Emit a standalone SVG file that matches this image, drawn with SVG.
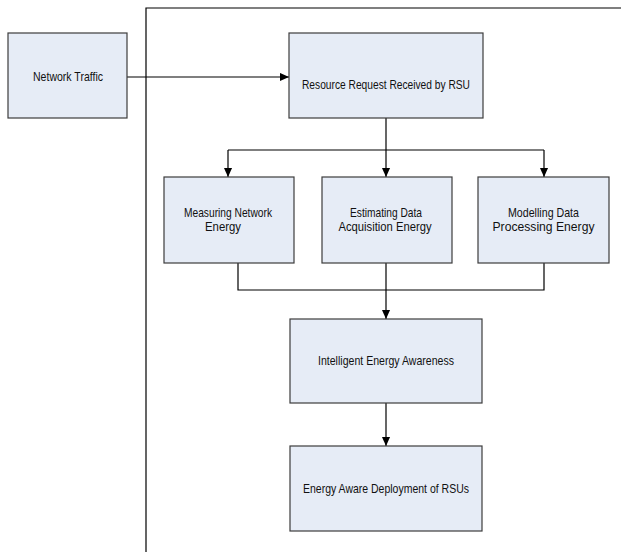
<svg xmlns="http://www.w3.org/2000/svg" width="621" height="559" viewBox="0 0 621 559">
<style>
.box{fill:#e6ecf6;stroke:#3c3c3c;stroke-width:1.2}
.t{font-family:"Liberation Sans",Arial,sans-serif;font-size:13.5px;fill:#111;text-anchor:middle}
.ln{fill:none;stroke:#000;stroke-width:1.2}
</style>
<defs>
<marker id="ah" viewBox="0 0 10 10" refX="10" refY="5" markerWidth="9" markerHeight="9" markerUnits="userSpaceOnUse" orient="auto">
<path d="M0,0.5 L10,5 L0,9.5 z" fill="#000"/>
</marker>
</defs>
<rect width="621" height="559" fill="#fff"/>
<g id="frame"><path class="ln" d="M146,552 V8 H621"/></g>
<g id="connectors">
<path class="ln" d="M127,77 H289" marker-end="url(#ah)"/>
<path class="ln" d="M386,118 V150"/>
<path class="ln" d="M228,150 H544"/>
<path class="ln" d="M228,150 V177" marker-end="url(#ah)"/>
<path class="ln" d="M386,150 V177" marker-end="url(#ah)"/>
<path class="ln" d="M544,150 V177" marker-end="url(#ah)"/>
<path class="ln" d="M238,263 V290 H544 V263"/>
<path class="ln" d="M386,263 V319" marker-end="url(#ah)"/>
<path class="ln" d="M386,403 V446" marker-end="url(#ah)"/>
</g>
<g id="n1"><rect class="box" x="8" y="33" width="119" height="85"/><text class="t" x="68" y="81" textLength="70" lengthAdjust="spacingAndGlyphs">Network Traffic</text></g>
<g id="n2"><rect class="box" x="289" y="33" width="194" height="85"/><text class="t" x="386" y="89" textLength="168" lengthAdjust="spacingAndGlyphs">Resource Request Received by RSU</text></g>
<g id="n3"><rect class="box" x="164" y="177" width="130" height="86"/><text class="t" x="228" y="216.5" textLength="88" lengthAdjust="spacingAndGlyphs">Measuring Network</text><text class="t" x="223" y="231" textLength="36" lengthAdjust="spacingAndGlyphs">Energy</text></g>
<g id="n4"><rect class="box" x="322" y="177" width="130" height="86"/><text class="t" x="386" y="216.5" textLength="72" lengthAdjust="spacingAndGlyphs">Estimating Data</text><text class="t" x="385" y="231" textLength="93" lengthAdjust="spacingAndGlyphs">Acquisition Energy</text></g>
<g id="n5"><rect class="box" x="478" y="177" width="131" height="86"/><text class="t" x="543.5" y="216.5" textLength="71" lengthAdjust="spacingAndGlyphs">Modelling Data</text><text class="t" x="543.5" y="231" textLength="102" lengthAdjust="spacingAndGlyphs">Processing Energy</text></g>
<g id="n6"><rect class="box" x="290" y="319" width="192" height="84"/><text class="t" x="386" y="365" textLength="136" lengthAdjust="spacingAndGlyphs">Intelligent Energy Awareness</text></g>
<g id="n7"><rect class="box" x="290" y="446" width="192" height="85"/><text class="t" x="386" y="493" textLength="166" lengthAdjust="spacingAndGlyphs">Energy Aware Deployment of RSUs</text></g>
</svg>
